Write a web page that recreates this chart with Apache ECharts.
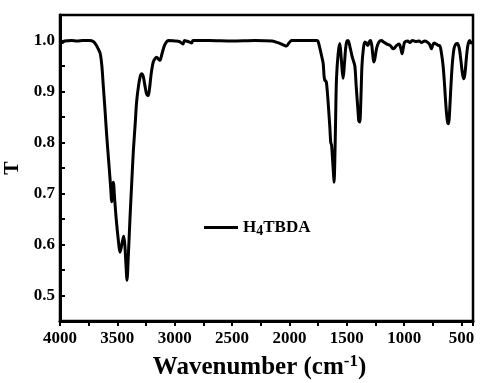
<!DOCTYPE html>
<html><head><meta charset="utf-8">
<script src="https://cdn.jsdelivr.net/npm/echarts@6/dist/echarts.min.js"></script>
<style>html,body{margin:0;padding:0;background:#fff}#c{width:480px;height:383px}</style>
</head><body><div id="c"></div>
<script>
const wavenumbers = [4000,3980,3960,3900,3850,3800,3740,3710,3690,3670,3650,3635,3623,3608,3593,3578,3564,3555,3550,3545,3538,3533,3527,3510,3490,3478,3468,3455,3445,3435,3425,3416,3405,3390,3375,3361,3345,3332,3315,3300,3288,3275,3260,3245,3231,3220,3205,3187,3170,3158,3140,3129,3110,3090,3070,3057,3000,2960,2940,2928,2915,2900,2870,2853,2840,2700,2500,2300,2150,2120,2080,2050,2025,2005,1980,1900,1800,1760,1750,1735,1720,1706,1698,1692,1685,1678,1670,1660,1648,1640,1633,1625,1615,1611,1605,1598,1590,1575,1561,1550,1540,1532,1522,1510,1500,1489,1470,1455,1445,1430,1418,1405,1395,1387,1378,1368,1355,1343,1330,1317,1305,1293,1282,1275,1265,1255,1240,1220,1198,1180,1150,1120,1097,1085,1067,1045,1030,1018,1008,995,970,950,930,900,870,850,820,800,780,770,762,752,740,720,700,690,675,661,650,640,630,620,612,604,595,580,565,550,536,520,505,492,480,470,458,445,429,415,402];
const transmittance = [0.998,0.996,0.999,1.0,0.999,1.0,1.0,0.998,0.993,0.985,0.975,0.950,0.912,0.865,0.814,0.770,0.729,0.700,0.684,0.690,0.718,0.722,0.700,0.650,0.605,0.585,0.592,0.607,0.616,0.600,0.560,0.530,0.575,0.651,0.720,0.782,0.835,0.880,0.912,0.930,0.935,0.930,0.912,0.895,0.892,0.905,0.935,0.958,0.965,0.967,0.963,0.961,0.975,0.990,0.998,1.0,0.999,0.998,0.995,0.993,1.0,0.999,0.997,0.995,1.0,1.0,0.999,1.0,0.999,0.997,0.994,0.991,0.989,0.995,1.0,1.0,1.0,1.0,0.998,0.985,0.970,0.955,0.930,0.922,0.921,0.918,0.900,0.870,0.830,0.800,0.795,0.770,0.735,0.722,0.760,0.840,0.925,0.975,0.994,0.970,0.940,0.926,0.950,0.985,0.998,1.0,0.985,0.970,0.962,0.950,0.910,0.870,0.842,0.840,0.880,0.950,0.985,0.997,0.995,0.990,0.997,1.0,0.990,0.975,0.958,0.965,0.985,0.997,1.0,0.997,0.993,0.990,0.984,0.985,0.990,0.993,0.985,0.974,0.985,0.997,0.999,0.996,1.0,0.998,0.999,0.996,0.999,0.997,0.993,0.988,0.984,0.990,0.995,0.993,0.990,0.990,0.975,0.951,0.920,0.885,0.855,0.838,0.837,0.860,0.900,0.955,0.985,0.993,0.994,0.985,0.960,0.935,0.925,0.935,0.965,0.990,1.0,0.995,0.997];
const xTickLabels = [4000,3500,3000,2500,2000,1500,1000,500];
const yTickLabels = [0.5,0.6,0.7,0.8,0.9,1.0];
const seriesName = 'H4TBDA';
const xAxisTitle = 'Wavenumber (cm';
const yAxisTitle = 'T';

const FF = '"Liberation Serif","Times New Roman",serif';
const chart = echarts.init(document.getElementById('c'), null, {renderer:'canvas'});
chart.setOption({
  animation: false,
  backgroundColor: '#fff',
  grid: {left: 60, right: 7, top: 15, bottom: 62, outerBoundsMode: 'none', containLabel: false, show: true, borderColor: '#000', borderWidth: 2.5, backgroundColor: 'transparent'},
  legend: {
    data: [{name: seriesName, icon: 'rect'}], left: 199, top: 214, itemWidth: 34, itemHeight: 3, itemGap: 6,
    itemStyle: {color: '#000'},
    formatter: () => '{a|H}{b|4}{a|TBDA}',
    textStyle: {rich: {
      a: {fontFamily: FF, fontWeight: 'bold', fontSize: 17, color: '#000'},
      b: {fontFamily: FF, fontWeight: 'bold', fontSize: 14, color: '#000', padding: [7, 0, 0, 0]}
    }}
  },
  xAxis: {
    type: 'value', min: -4000, max: -400, interval: 250,
    axisLine: {show: true, lineStyle: {color: '#000', width: 3}},
    axisTick: {show: true, inside: false, length: 5, lineStyle: {color: '#000', width: 2}},
    splitLine: {show: false},
    axisLabel: {
      formatter: v => xTickLabels.includes(Math.round(-v)) ? String(Math.round(-v)) : '',
      fontFamily: FF, fontWeight: 'bold', fontSize: 17, color: '#000', margin: 9
    },
    name: '{t|' + xAxisTitle + '}{s|-1}{t|)}', nameLocation: 'middle', nameGap: 32,
    nameTextStyle: {padding: [0, 14, 0, 0], rich: {
      t: {fontFamily: FF, fontWeight: 'bold', fontSize: 25, color: '#000', lineHeight: 30},
      s: {fontFamily: FF, fontWeight: 'bold', fontSize: 17, color: '#000', verticalAlign: 'top', lineHeight: 17}
    }}
  },
  yAxis: {
    type: 'value', min: 0.45, max: 1.05, interval: 0.05,
    axisLine: {show: true, lineStyle: {color: '#000', width: 3}},
    axisTick: {show: true, inside: true, length: 5, lineStyle: {color: '#000', width: 2}},
    splitLine: {show: false},
    axisLabel: {
      formatter: v => { const r = Math.round(v * 10) / 10; return (Math.abs(v - r) < 1e-6 && yTickLabels.includes(r)) ? r.toFixed(1) : ''; },
      fontFamily: FF, fontWeight: 'bold', fontSize: 17, color: '#000', margin: 5
    },
    name: yAxisTitle, nameLocation: 'middle', nameGap: 35, nameRotate: 90,
    nameTextStyle: {fontFamily: FF, fontWeight: 'bold', fontSize: 20, color: '#000'}
  },
  series: [{
    name: seriesName, type: 'line', symbol: 'none', smooth: 0.3,
    lineStyle: {color: '#000', width: 3}, itemStyle: {color: '#000'},
    data: wavenumbers.map((w, i) => [-w, transmittance[i]])
  }]
});
</script></body></html>
